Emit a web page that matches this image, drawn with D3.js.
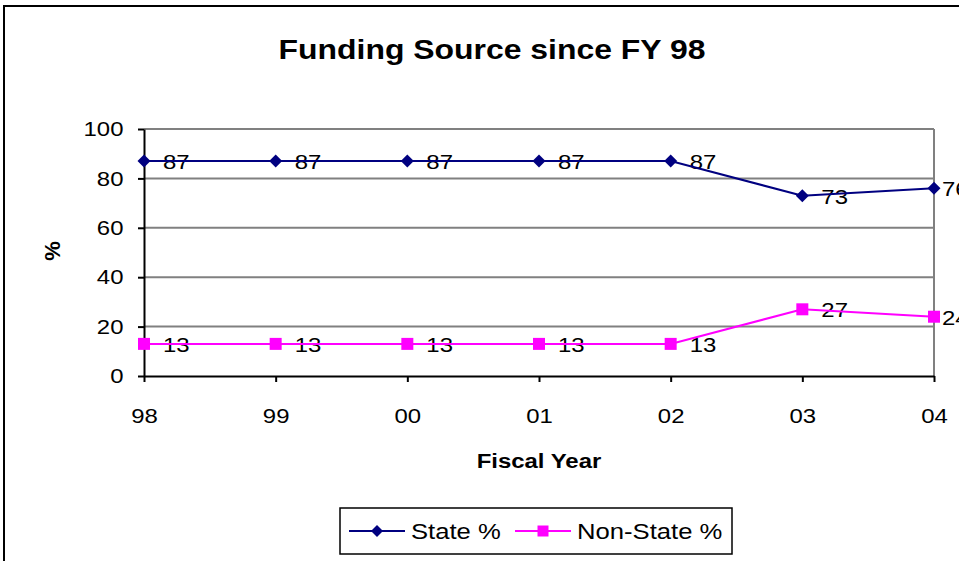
<!DOCTYPE html>
<meta charset="utf-8">
<style>
body { margin: 0; background: #fff; }
text { font-family: Arial, "Liberation Sans", sans-serif; fill: #000; }
</style>
<svg width="959" height="561"></svg>
<script src="https://d3js.org/d3.v7.min.js"></script>
<script>
var years = ["98", "99", "00", "01", "02", "03", "04"];
var stateValues = [87, 87, 87, 87, 87, 73, 76];
var nonStateValues = [13, 13, 13, 13, 13, 27, 24];
var yTicks = [0, 20, 40, 60, 80, 100];

var svg = d3.select("svg"),
    plotLeft = 144, plotRight = 934, plotTop = 129, plotBottom = 376,
    stretch = 1.14;  // the reference text is a bit wider than plain Arial

// chart frame (right and bottom edges run off the picture)
svg.append("rect")
    .attr("x", 4).attr("y", 6)
    .attr("width", 980).attr("height", 600)
    .attr("fill", "none").attr("stroke", "#000").attr("stroke-width", 2);

var x = d3.scalePoint().domain(years).range([plotLeft, plotRight]);
var y = d3.scaleLinear().domain([0, 100]).range([plotBottom, plotTop]);

function addText(g, tx, ty, str, size, anchor, bold) {
  return g.append("text")
      .attr("transform", "translate(" + tx + "," + ty + ") scale(" + stretch + ",1)")
      .attr("text-anchor", anchor || "start")
      .attr("font-size", size)
      .attr("font-weight", bold ? "bold" : "normal")
      .text(str);
}

// gridlines
svg.append("g").selectAll("line")
    .data(yTicks.filter(function(d) { return d > 0; }))
  .enter().append("line")
    .attr("x1", plotLeft).attr("x2", plotRight)
    .attr("y1", function(d) { return y(d); })
    .attr("y2", function(d) { return y(d); })
    .attr("stroke", "#808080").attr("stroke-width", 2);

svg.append("line")
    .attr("x1", plotRight).attr("x2", plotRight)
    .attr("y1", plotTop).attr("y2", plotBottom)
    .attr("stroke", "#808080").attr("stroke-width", 2);

// axes
var yAxis = svg.append("g")
    .attr("transform", "translate(" + plotLeft + ",0)")
    .call(d3.axisLeft(y).tickValues(yTicks).tickSize(6).tickPadding(12).tickSizeOuter(0));
var xAxis = svg.append("g")
    .attr("transform", "translate(0," + plotBottom + ")")
    .call(d3.axisBottom(x).tickSize(6).tickPadding(26).tickSizeOuter(0));

[yAxis, xAxis].forEach(function(a) {
  a.select(".domain").attr("stroke", "#000").attr("stroke-width", 2);
  a.selectAll(".tick line").attr("stroke", "#000").attr("stroke-width", 2);
  a.selectAll("text")
      .attr("font-size", 21)
      .attr("font-family", "Arial, 'Liberation Sans', sans-serif")
      .attr("fill", "#000")
      .attr("transform", "scale(" + stretch + ",1)");
});

// marker shapes
function diamond(r) { return "M0," + (-r) + "L" + r + ",0L0," + r + "L" + (-r) + ",0Z"; }
function square(r) { return "M" + (-r) + "," + (-r) + "h" + (2 * r) + "v" + (2 * r) + "h" + (-2 * r) + "Z"; }

var series = [
  { name: "State %", values: stateValues, color: "#000080", shape: diamond, r: 6.5 },
  { name: "Non-State %", values: nonStateValues, color: "#FF00FF", shape: square, r: 6 }
];

var line = d3.line()
    .x(function(d, i) { return x(years[i]); })
    .y(function(d) { return y(d); });

var labels = svg.append("g");
series.forEach(function(s) {
  svg.append("path")
      .datum(s.values)
      .attr("d", line)
      .attr("fill", "none")
      .attr("stroke", s.color)
      .attr("stroke-width", 2);

  svg.append("g").selectAll("path")
      .data(s.values)
    .enter().append("path")
      .attr("transform", function(d, i) { return "translate(" + x(years[i]) + "," + y(d) + ")"; })
      .attr("d", s.shape(s.r))
      .attr("fill", s.color);

  s.values.forEach(function(d, i) {
    // last label is pushed in against the plot edge, as in the original
    var dx = i === s.values.length - 1 ? 8 : 19;
    addText(labels, x(years[i]) + dx, y(d) + 8, d, 21);
  });
});

// titles
addText(svg, 492, 59, "Funding Source since FY 98", 28, "middle", true);
addText(svg, 539, 468, "Fiscal Year", 21, "middle", true);

svg.append("text")
    .attr("transform", "translate(60,251) rotate(-90)")
    .attr("text-anchor", "middle")
    .attr("font-size", 22).attr("font-weight", "bold")
    .text("%");

// legend
var legend = svg.append("g");
legend.append("rect")
    .attr("x", 340).attr("y", 508)
    .attr("width", 392).attr("height", 46)
    .attr("fill", "#fff").attr("stroke", "#000").attr("stroke-width", 1.5);

var legendX = [349, 515];
series.forEach(function(s, i) {
  var lx = legendX[i], ly = 531;
  legend.append("line")
      .attr("x1", lx).attr("x2", lx + 56)
      .attr("y1", ly).attr("y2", ly)
      .attr("stroke", s.color).attr("stroke-width", 2);
  legend.append("path")
      .attr("transform", "translate(" + (lx + 28) + "," + ly + ")")
      .attr("d", s.shape(s.r - 0.5))
      .attr("fill", s.color);
  addText(legend, lx + 62, ly + 8, s.name, 22.5);
});
</script>
